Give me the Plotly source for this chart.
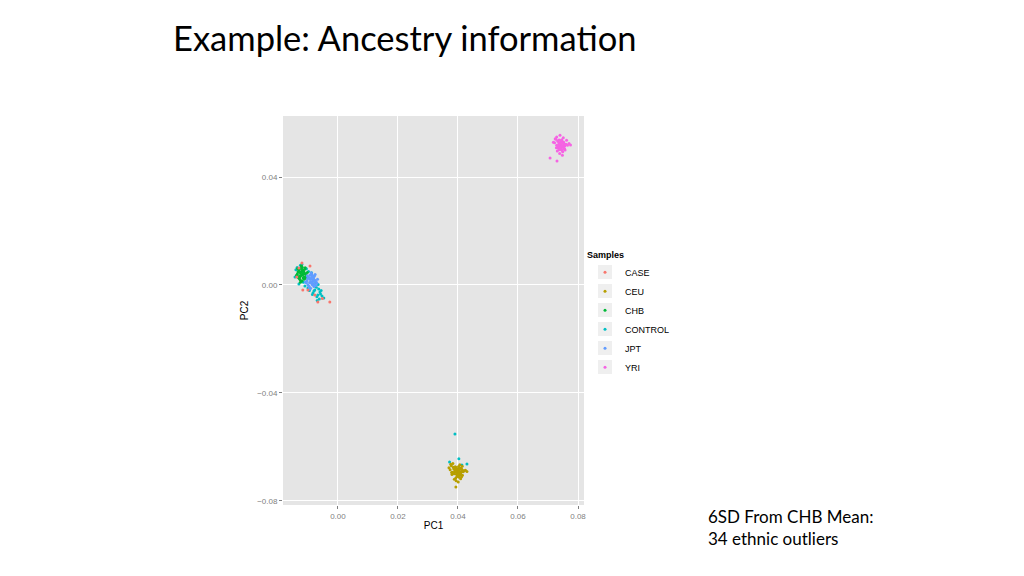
import plotly.graph_objects as go

# ---- data ----
CASE_PC1 = [-0.0120, -0.0137, -0.0117, -0.0067, -0.0027, -0.0077, -0.0100, -0.0130, -0.0093, -0.0052]
CASE_PC2 = [0.0081, 0.0030, -0.0019, -0.0063, -0.0063, -0.0037, -0.0019, 0.0063, 0.0070, -0.0050]

CEU_PC1 = [0.0400, 0.0392, 0.0408, 0.0385, 0.0415, 0.0397, 0.0378, 0.0404, 0.0389, 0.0411,
           0.0395, 0.0420, 0.0383, 0.0402, 0.0374, 0.0409, 0.0391, 0.0398, 0.0417, 0.0387,
           0.0406, 0.0394, 0.0425, 0.0380, 0.0403, 0.0396, 0.0412, 0.0370, 0.0401, 0.0389,
           0.0414, 0.0393, 0.0405, 0.0384, 0.0393, 0.0430, 0.0376, 0.0407, 0.0399, 0.0388,
           0.0401, 0.0396, 0.0410, 0.0386, 0.0403, 0.0394, 0.0418, 0.0381, 0.0399, 0.0407,
           0.0392, 0.0413, 0.0385, 0.0402, 0.0397, 0.0409, 0.0390, 0.0404, 0.0379, 0.0400]
CEU_PC2 = [-0.0690, -0.0682, -0.0697, -0.0675, -0.0705, -0.0686, -0.0670, -0.0712, -0.0693, -0.0679,
           -0.0701, -0.0688, -0.0661, -0.0695, -0.0684, -0.0718, -0.0673, -0.0708, -0.0692, -0.0699,
           -0.0666, -0.0725, -0.0686, -0.0702, -0.0680, -0.0694, -0.0710, -0.0677, -0.0730, -0.0689,
           -0.0671, -0.0715, -0.0683, -0.0697, -0.0748, -0.0691, -0.0664, -0.0703, -0.0687, -0.0720,
           -0.0685, -0.0696, -0.0692, -0.0681, -0.0700, -0.0676, -0.0689, -0.0694, -0.0706, -0.0679,
           -0.0688, -0.0684, -0.0698, -0.0672, -0.0709, -0.0701, -0.0678, -0.0690, -0.0695, -0.0683]

CHB_PC1 = [-0.0125, -0.0118, -0.0130, -0.0112, -0.0121, -0.0135, -0.0108, -0.0127, -0.0116, -0.0123,
           -0.0132, -0.0110, -0.0119, -0.0126, -0.0114, -0.0138, -0.0104, -0.0122, -0.0129, -0.0117,
           -0.0111, -0.0133, -0.0120, -0.0107, -0.0124, -0.0128, -0.0115, -0.0131, -0.0113, -0.0119,
           -0.0136, -0.0102, -0.0125, -0.0109, -0.0121, -0.0127, -0.0116, -0.0134, -0.0112, -0.0123]
CHB_PC2 = [0.0045, 0.0038, 0.0052, 0.0030, 0.0060, 0.0041, 0.0025, 0.0034, 0.0055, 0.0047,
           0.0028, 0.0043, 0.0066, 0.0019, 0.0050, 0.0036, 0.0032, 0.0071, 0.0024, 0.0040,
           0.0058, 0.0048, 0.0015, 0.0039, 0.0062, 0.0029, 0.0044, 0.0057, 0.0021, 0.0053,
           0.0033, 0.0046, 0.0010, 0.0064, 0.0037, 0.0049, 0.0027, 0.0061, 0.0042, 0.0035]

CONTROL_PC1 = [-0.0140, -0.0077, -0.0060, -0.0053, -0.0047, -0.0067, -0.0083, -0.0100, -0.0130, -0.0110,
               -0.0072, -0.0064, -0.0058, -0.0070, -0.0080, -0.0062, -0.0143, -0.0136, -0.0125, -0.0115,
               -0.0105, -0.0095, -0.0088, -0.0074, -0.0066, -0.0120, -0.0098, -0.0085, -0.0069, -0.0056,
               0.0390, 0.0403, 0.0430, 0.0413, 0.0372]
CONTROL_PC2 = [0.0056, -0.0019, -0.0026, -0.0041, -0.0048, -0.0037, -0.0030, -0.0011, 0.0004, -0.0004,
               -0.0008, -0.0015, -0.0033, -0.0044, -0.0022, -0.0052, 0.0030, 0.0065, 0.0073, 0.0010,
               0.0060, -0.0020, 0.0045, 0.0008, 0.0002, 0.0076, 0.0050, -0.0035, -0.0057, -0.0020,
               -0.0552, -0.0644, -0.0663, -0.0667, -0.0656]

JPT_PC1 = [-0.0092, -0.0085, -0.0098, -0.0079, -0.0088, -0.0103, -0.0074, -0.0094, -0.0082, -0.0090,
           -0.0100, -0.0077, -0.0087, -0.0095, -0.0081, -0.0108, -0.0070, -0.0089, -0.0097, -0.0084,
           -0.0078, -0.0101, -0.0091, -0.0073, -0.0093, -0.0086, -0.0083, -0.0099, -0.0080, -0.0088,
           -0.0105, -0.0068, -0.0094, -0.0076, -0.0090, -0.0096, -0.0084, -0.0102, -0.0079, -0.0087]
JPT_PC2 = [0.0020, 0.0012, 0.0028, 0.0005, 0.0035, 0.0016, -0.0002, 0.0009, 0.0031, 0.0023,
           0.0001, 0.0018, 0.0040, -0.0008, 0.0026, 0.0011, 0.0006, 0.0045, -0.0004, 0.0014,
           0.0033, 0.0024, -0.0012, 0.0013, 0.0037, 0.0003, 0.0019, 0.0030, -0.0006, 0.0027,
           0.0008, 0.0021, -0.0015, 0.0039, 0.0010, 0.0025, 0.0000, 0.0034, 0.0017, 0.0007]

YRI_PC1 = [0.0743, 0.0738, 0.0750, 0.0732, 0.0755, 0.0741, 0.0726, 0.0747, 0.0735, 0.0752,
           0.0740, 0.0760, 0.0729, 0.0745, 0.0722, 0.0749, 0.0737, 0.0744, 0.0765, 0.0733,
           0.0751, 0.0739, 0.0770, 0.0728, 0.0746, 0.0742, 0.0757, 0.0718, 0.0748, 0.0736,
           0.0762, 0.0740, 0.0753, 0.0731, 0.0744, 0.0775, 0.0724, 0.0754, 0.0707, 0.0730,
           0.0745, 0.0739, 0.0748, 0.0736, 0.0751, 0.0742, 0.0734, 0.0747, 0.0740, 0.0756,
           0.0744, 0.0738, 0.0750, 0.0729, 0.0746, 0.0741, 0.0753, 0.0737, 0.0743, 0.0749]
YRI_PC2 = [0.0519, 0.0526, 0.0512, 0.0533, 0.0505, 0.0522, 0.0540, 0.0498, 0.0515, 0.0530,
           0.0509, 0.0521, 0.0548, 0.0514, 0.0527, 0.0494, 0.0537, 0.0502, 0.0518, 0.0511,
           0.0545, 0.0487, 0.0524, 0.0508, 0.0531, 0.0516, 0.0500, 0.0529, 0.0481, 0.0520,
           0.0536, 0.0555, 0.0525, 0.0496, 0.0513, 0.0519, 0.0542, 0.0506, 0.0470, 0.0459,
           0.0517, 0.0523, 0.0510, 0.0528, 0.0514, 0.0520, 0.0507, 0.0532, 0.0524, 0.0516,
           0.0503, 0.0511, 0.0527, 0.0518, 0.0538, 0.0509, 0.0521, 0.0501, 0.0534, 0.0515]

X_TICKS = [0.00, 0.02, 0.04, 0.06, 0.08]
Y_TICKS = [-0.08, -0.04, 0.00, 0.04]

series = [
    # (name, x, y, color, legend rank) -- drawing order chosen so clusters overlap like the original
    ("CONTROL", CONTROL_PC1, CONTROL_PC2, "#00BFC4", 4),
    ("CHB", CHB_PC1, CHB_PC2, "#00BA38", 3),
    ("JPT", JPT_PC1, JPT_PC2, "#619CFF", 5),
    ("CEU", CEU_PC1, CEU_PC2, "#B79F00", 2),
    ("YRI", YRI_PC1, YRI_PC2, "#F564E3", 6),
    ("CASE", CASE_PC1, CASE_PC2, "#F8766D", 1),
]

fig = go.Figure()
for name, xs, ys, col, rank in series:
    fig.add_trace(go.Scatter(
        x=xs, y=ys, mode="markers", name=name, legendrank=rank,
        marker=dict(color=col, size=3, line=dict(width=0)),
    ))

axis_common = dict(
    showgrid=True, gridcolor="white", gridwidth=1, zeroline=False,
    ticks="outside", ticklen=3, tickcolor="#7f7f7f", tickwidth=1,
    tickfont=dict(family="Liberation Sans", size=8, color="#7f7f7f"),
    showline=False,
)

# page body has an 8px margin: figure sits at (8, 8)
OFF = 8
W, H = 1024 - OFF, 576 - OFF
L, R, T, B = 283 - OFF, 1024 - 584, 116 - OFF, 576 - 505
PW, PH = W - L - R, H - T - B

# light grey key backgrounds behind the legend symbols (ggplot style)
key_shapes = []
for k in range(len(series)):
    cy = 272 + 19 * k
    key_shapes.append(dict(
        type="rect", xref="paper", yref="paper", layer="below",
        x0=(598 - 283) / PW, x1=(612 - 283) / PW,
        y0=(505 - (cy + 7)) / PH, y1=(505 - (cy - 7)) / PH,
        fillcolor="#EFEFEF", line=dict(width=0),
    ))

fig.update_layout(
    width=W, height=H,
    paper_bgcolor="white", plot_bgcolor="#E5E5E5",
    margin=dict(l=L, r=R, t=T, b=B, autoexpand=False),
    font=dict(family="Liberation Sans"),
    xaxis=dict(range=[-0.0183, 0.082], tickvals=X_TICKS, ticktext=["%.2f" % v for v in X_TICKS],
               title=dict(text="PC1", font=dict(size=10, color="black"), standoff=2), **axis_common),
    yaxis=dict(range=[-0.0815, 0.0626], tickvals=Y_TICKS,
               ticktext=[("−%.2f" % -v) if v < 0 else "%.2f" % v for v in Y_TICKS],
               title=dict(text="PC2", font=dict(size=10, color="black"), standoff=6), **axis_common),
    legend=dict(
        title=dict(text="<b>Samples</b>", font=dict(size=9, color="black")),
        font=dict(size=9, color="black"),
        xref="container", yref="container",
        x=(585 - OFF) / W, y=1 - (246 - OFF) / H,
        xanchor="left", yanchor="top",
        bgcolor="rgba(0,0,0,0)", itemsizing="trace", tracegroupgap=0,
    ),
    shapes=key_shapes,
    annotations=[
        dict(text="Example: Ancestry information", xref="paper", yref="paper",
             x=(171 - 283) / PW, y=1 + (116 - 37) / PH, xanchor="left", yanchor="middle",
             showarrow=False, font=dict(family="Lato", size=34.5, color="black")),
        dict(text="6SD From CHB Mean:<br>34 ethnic outliers", xref="paper", yref="paper",
             x=(706 - 283) / PW, y=-(527 - 505) / PH, xanchor="left", yanchor="middle",
             align="left", showarrow=False,
             font=dict(family="Lato", size=17, color="black")),
    ],
)

fig.write_html("out.html", config={"displayModeBar": False})
